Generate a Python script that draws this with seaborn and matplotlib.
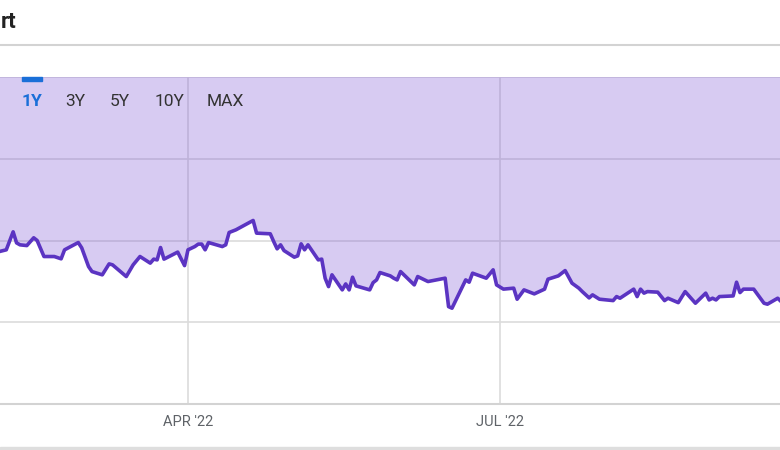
import numpy as np
import pandas as pd
import matplotlib
matplotlib.use('Agg')
import matplotlib.pyplot as plt
import matplotlib.dates as mdates
from matplotlib.patches import Rectangle
from matplotlib.lines import Line2D
import seaborn as sns

# Datos (fechas y valores)
fechas = ['2022-02-05', '2022-02-07', '2022-02-09', '2022-02-10', '2022-02-11', '2022-02-13',
          '2022-02-15', '2022-02-16', '2022-02-18', '2022-02-21', '2022-02-23', '2022-02-24',
          '2022-02-28', '2022-03-01', '2022-03-03', '2022-03-04', '2022-03-07', '2022-03-09',
          '2022-03-10', '2022-03-14', '2022-03-16', '2022-03-18', '2022-03-21', '2022-03-22',
          '2022-03-23', '2022-03-24', '2022-03-25', '2022-03-29', '2022-03-31', '2022-04-01',
          '2022-04-03', '2022-04-04', '2022-04-05', '2022-04-06', '2022-04-07', '2022-04-11',
          '2022-04-12', '2022-04-13', '2022-04-15', '2022-04-20', '2022-04-21', '2022-04-25',
          '2022-04-26', '2022-04-27', '2022-04-28', '2022-04-29', '2022-05-02', '2022-05-03',
          '2022-05-04', '2022-05-05', '2022-05-06', '2022-05-09', '2022-05-10', '2022-05-11',
          '2022-05-12', '2022-05-13', '2022-05-16', '2022-05-17', '2022-05-18', '2022-05-19',
          '2022-05-20', '2022-05-24', '2022-05-25', '2022-05-26', '2022-05-27', '2022-05-30',
          '2022-05-31', '2022-06-01', '2022-06-02', '2022-06-06', '2022-06-07', '2022-06-10',
          '2022-06-15', '2022-06-16', '2022-06-17', '2022-06-21', '2022-06-22', '2022-06-23',
          '2022-06-27', '2022-06-29', '2022-06-30', '2022-07-02', '2022-07-05', '2022-07-06',
          '2022-07-08', '2022-07-11', '2022-07-14', '2022-07-15', '2022-07-18', '2022-07-20',
          '2022-07-22', '2022-07-24', '2022-07-25', '2022-07-27', '2022-07-28', '2022-07-30',
          '2022-08-03', '2022-08-04', '2022-08-05', '2022-08-09', '2022-08-10', '2022-08-11',
          '2022-08-12', '2022-08-13', '2022-08-16', '2022-08-18', '2022-08-19', '2022-08-22',
          '2022-08-24', '2022-08-27', '2022-08-30', '2022-08-31', '2022-09-01', '2022-09-02',
          '2022-09-03', '2022-09-07', '2022-09-08', '2022-09-09', '2022-09-10', '2022-09-13',
          '2022-09-16', '2022-09-17', '2022-09-20', '2022-09-21']
valores = [38.65, 38.86, 41.06, 39.71, 39.47, 39.38,
           40.33, 40.00, 38.04, 38.04, 37.76, 38.86,
           39.75, 39.10, 36.81, 36.20, 35.80, 37.14,
           37.02, 35.59, 37.02, 38.04, 37.23, 37.72,
           37.63, 39.14, 37.72, 38.58, 36.93, 38.86,
           39.26, 39.56, 39.56, 38.86, 39.75, 39.26,
           39.47, 40.98, 41.31, 42.45, 40.90, 40.82,
           39.87, 38.98, 39.47, 38.77, 37.96, 38.12,
           39.59, 38.86, 39.47, 37.63, 37.72, 35.39,
           34.36, 35.80, 33.96, 34.69, 33.96, 35.51,
           34.45, 33.96, 34.85, 35.18, 36.08, 35.67,
           35.39, 35.18, 36.20, 34.57, 35.59, 34.98,
           35.39, 31.91, 31.72, 35.18, 34.90, 36.00,
           35.39, 36.41, 34.57, 34.05, 34.17, 32.82,
           33.96, 33.47, 34.05, 35.27, 35.67, 36.32,
           34.78, 34.17, 33.75, 32.98, 33.35, 32.82,
           32.65, 33.14, 32.94, 34.05, 33.14, 34.05,
           33.56, 33.75, 33.68, 32.65, 32.94, 32.40,
           33.75, 32.33, 33.56, 32.73, 32.94, 32.73,
           33.14, 33.22, 34.90, 33.63, 34.05, 34.05,
           32.33, 32.21, 32.94, 32.53]

botones = ['1Y', '3Y', '5Y', '10Y', 'MAX']
marcas_x = ['2022-04-01', '2022-07-01']
etiquetas_x = ["APR '22", "JUL '22"]
titulo = 'rt'

df = pd.DataFrame({'fecha': pd.to_datetime(fechas), 'valor': valores})

sns.set_theme(style='white')
plt.rcParams['font.family'] = ['Roboto', 'DejaVu Sans']

W, H = 780, 450
fig = plt.figure(figsize=(7.8, 4.5), dpi=100)
ax = fig.add_axes([0, 1 - 404 / H, 1, (404 - 77) / H])

# Grilla por debajo del relleno
for v in [30, 40, 50, 60]:
    ax.axhline(v, color='#dcdcdc', lw=1.2, zorder=0)
for t in marcas_x:
    ax.axvline(pd.Timestamp(t), color='#dcdcdc', lw=1.2, zorder=0)

# Relleno entre la linea y el techo
ax.fill_between(df['fecha'], df['valor'], 60, color='#7d55d4', alpha=0.3, lw=0, zorder=1)
sns.lineplot(data=df, x='fecha', y='valor', color='#5b34c2', linewidth=2.6, ax=ax, zorder=3)

base = pd.Timestamp('2022-04-01')
ax.set_xlim(base - pd.Timedelta(days=54.83), base + pd.Timedelta(days=172.67))
ax.set_ylim(20, 60)
ax.set_xticks(pd.to_datetime(marcas_x))
ax.set_xticklabels(etiquetas_x)
ax.set_yticks([])
ax.set_xlabel('')
ax.set_ylabel('')
ax.tick_params(axis='x', length=0, pad=8, labelsize=10.5, labelcolor='#5f6368')
for s in ['top', 'left', 'right']:
    ax.spines[s].set_visible(False)
ax.spines['bottom'].set_color('#d3d3d3')
ax.spines['bottom'].set_linewidth(1.5)
ax.set_facecolor('none')

# Botones de periodo
pos_x = [32, 75, 120, 169, 225]
for b, px in zip(botones, pos_x):
    activo = b == '1Y'
    fig.text(px / W, 1 - 101 / H, b, ha='center', va='center', fontsize=12.5,
             color='#1a6fd8' if activo else '#333333',
             fontweight='bold' if activo else 'normal')
fig.patches.append(Rectangle((22 / W, 1 - 80.5 / H), 20 / W, 3.5 / H, transform=fig.transFigure,
                             color='#1a6fd8', zorder=5))

# Titulo (recortado en el original) y separadores
fig.text(1 / W, 1 - 22 / H, titulo, ha='left', va='center', fontsize=16,
         fontweight='bold', color='#222222')
fig.lines.append(Line2D([0, 1], [1 - 45 / H] * 2, transform=fig.transFigure,
                        color='#d3d3d3', lw=1.5))
fig.patches.append(Rectangle((0, 0), 1, 3 / H, transform=fig.transFigure,
                             color='#dedede'))

fig.savefig('out.png', dpi=100)
